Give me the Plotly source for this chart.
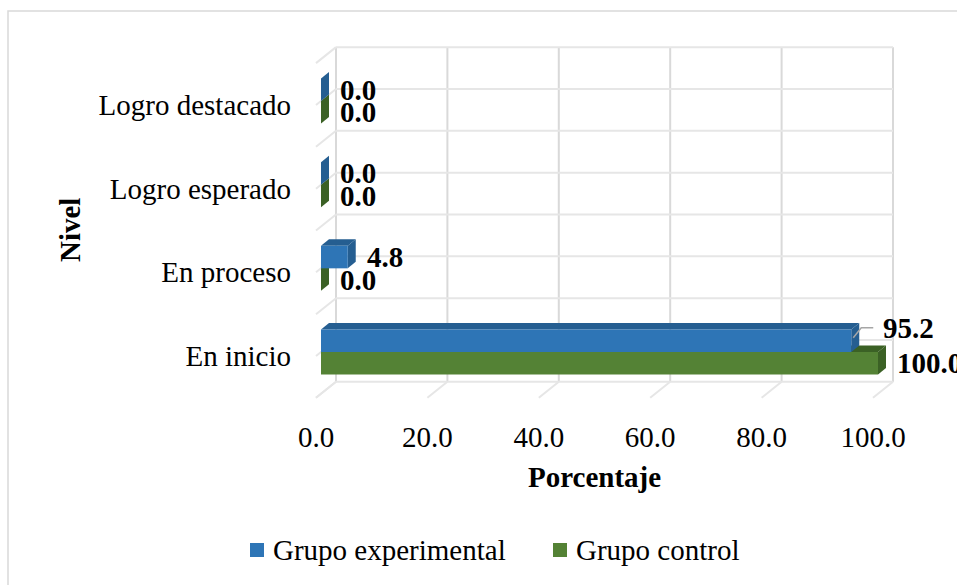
import plotly.graph_objects as go

# ---- data ----
categorias = ["En inicio", "En proceso", "Logro esperado", "Logro destacado"]
grupo_experimental = [95.2, 4.8, 0.0, 0.0]
grupo_control = [100.0, 0.0, 0.0, 0.0]
ticks_x = [0, 20, 40, 60, 80, 100]
ticks_x_texto = ["0.0", "20.0", "40.0", "60.0", "80.0", "100.0"]
nombres_series = ["Grupo experimental", "Grupo control"]

# ---- layout geometry (pixels) ----
W, H = 957, 585
ML, MR, MT, MB = 300, 12, 30, 175
PW, PH = W - ML - MR, H - MT - MB
X0_PX = 321.0      # pixel column of 0 % on the bar plane
PX = 5.57          # pixels per percent
Y0_PX = 352.0      # pixel row of the first category centre on the bar plane
PY = 83.67         # pixels per category

x_range = [-(X0_PX - ML) / PX, (W - MR - X0_PX) / PX]
y_range = [(Y0_PX - (H - MB)) / PY, (Y0_PX - MT) / PY]


def dxu(px):
    return px / PX


def dyu(px):
    return px / PY


def paper_x(px):
    return (px - ML) / PW


def paper_y(py):
    return (H - MB - py) / PH


FONT = "Liberation Serif, Times New Roman, serif"
FS = 29
BLUE, BLUE_D = "#2E75B6", "#255E91"
GREEN, GREEN_D = "#548235", "#3B6125"
GRID_V, GRID_H = "#D9D9D9", "#E6E6E6"

BAR_W = dyu(22.5)                 # bar thickness in category units
DEP_X, DEP_Y = dxu(8), dyu(6.5)   # bar depth (oblique projection)
BACK_X, BACK_Y = dxu(15), dyu(12)   # back wall relative to bar plane
FRONT_X, FRONT_Y = dxu(-5), dyu(-4)  # front edge relative to bar plane

idx = list(range(len(categorias)))

fig = go.Figure()
fig.add_trace(go.Bar(
    name=nombres_series[0], orientation="h", y=idx, x=grupo_experimental,
    width=BAR_W, offset=0, marker=dict(color=BLUE, line=dict(width=0)),
    hoverinfo="x+name",
))
fig.add_trace(go.Bar(
    name=nombres_series[1], orientation="h", y=idx, x=grupo_control,
    width=BAR_W, offset=-BAR_W, marker=dict(color=GREEN, line=dict(width=0)),
    hoverinfo="x+name",
))

shapes = []

# back wall: vertical gridlines
y_lo = -0.5 + BACK_Y
y_hi = len(categorias) - 0.5 + BACK_Y
for v in ticks_x:
    shapes.append(dict(type="line", xref="x", yref="y", layer="below",
                       x0=v + BACK_X, x1=v + BACK_X, y0=y_lo, y1=y_hi,
                       line=dict(color=GRID_V, width=2)))
# back wall: horizontal lines at category boundaries and centres
for k in range(2 * len(categorias) + 1):
    yy = -0.5 + k * 0.5 + BACK_Y
    shapes.append(dict(type="line", xref="x", yref="y", layer="below",
                       x0=ticks_x[0] + BACK_X, x1=ticks_x[-1] + BACK_X, y0=yy, y1=yy,
                       line=dict(color=GRID_H, width=2)))
    # side wall depth lines
    shapes.append(dict(type="line", xref="x", yref="y", layer="below",
                       x0=ticks_x[0] + BACK_X, x1=ticks_x[0] + FRONT_X,
                       y0=yy, y1=-0.5 + k * 0.5 + FRONT_Y,
                       line=dict(color=GRID_H, width=2)))
# floor depth lines
for v in ticks_x:
    shapes.append(dict(type="line", xref="x", yref="y", layer="below",
                       x0=v + BACK_X, x1=v + FRONT_X,
                       y0=-0.5 + BACK_Y, y1=-0.5 + FRONT_Y,
                       line=dict(color=GRID_H, width=2)))

# 3D faces of every bar
series = [(grupo_control, 0, GREEN_D), (grupo_experimental, 1, BLUE_D)]
for vals, up, dark in series:
    for i, v in enumerate(vals):
        ya = i if up else i - BAR_W
        yb = ya + BAR_W
        top = (f"M 0,{yb} L {DEP_X},{yb + DEP_Y} L {v + DEP_X},{yb + DEP_Y} "
               f"L {v},{yb} Z")
        side = (f"M {v},{ya} L {v},{yb} L {v + DEP_X},{yb + DEP_Y} "
                f"L {v + DEP_X},{ya + DEP_Y} Z")
        if v > 0:
            shapes.append(dict(type="path", xref="x", yref="y", layer="below",
                               path=top, fillcolor=dark, line=dict(width=0)))
        shapes.append(dict(type="path", xref="x", yref="y", layer="below",
                           path=side, fillcolor=dark, line=dict(width=0)))

# value labels
label_move = {(1, 0): (13, 13)}  # (series, category) -> pixel shift of label
annotations = []
for vals, up, _ in series:
    for i, v in enumerate(vals):
        yc = i + BAR_W / 2 if up else i - BAR_W / 2
        sx, sy = label_move.get((up, i), (0, 0))
        annotations.append(dict(
            x=v, y=yc, xref="x", yref="y", text=f"{v:.1f}", showarrow=False,
            xanchor="left", yanchor="middle", xshift=17 + sx, yshift=sy,
            font=dict(family=FONT, size=FS, color="#000000", weight="bold"),
        ))
        if (up, i) in label_move:
            path = (f"M {v + dxu(2)},{yc + dyu(3)} L {v + dxu(10)},{yc + dyu(sy)} "
                    f"L {v + dxu(22)},{yc + dyu(sy)}")
            shapes.append(dict(type="path", xref="x", yref="y", layer="above",
                               path=path, line=dict(color="#A6A6A6", width=1.5)))

# axis titles
annotations.append(dict(
    text="Porcentaje", x=paper_x(594), y=paper_y(477), xref="paper", yref="paper",
    showarrow=False, xanchor="center", yanchor="middle",
    font=dict(family=FONT, size=FS, color="#000000", weight="bold"),
))
annotations.append(dict(
    text="Nivel", x=paper_x(70), y=paper_y(230), xref="paper", yref="paper",
    showarrow=False, xanchor="center", yanchor="middle", textangle=-90,
    font=dict(family=FONT, size=FS, color="#000000", weight="bold"),
))

# legend: colour key squares and series names
legend_items = [(nombres_series[0], BLUE, 250), (nombres_series[1], GREEN, 553)]
for nombre, color, x_px in legend_items:
    shapes.append(dict(type="rect", xref="paper", yref="paper", layer="above",
                       x0=paper_x(x_px), x1=paper_x(x_px + 14),
                       y0=paper_y(557), y1=paper_y(543),
                       fillcolor=color, line=dict(width=0)))
    annotations.append(dict(
        text=nombre, x=paper_x(x_px + 21), y=paper_y(550), xref="paper", yref="paper",
        showarrow=False, xanchor="left", yanchor="middle",
        font=dict(family=FONT, size=FS, color="#000000"),
    ))

# outer chart border
shapes.append(dict(type="rect", xref="paper", yref="paper", layer="below",
                   x0=paper_x(8), y0=paper_y(620), x1=paper_x(990), y1=paper_y(11),
                   line=dict(color="#D9D9D9", width=1.5), fillcolor="rgba(0,0,0,0)"))

fig.update_layout(
    width=W, height=H,
    margin=dict(l=ML, r=MR, t=MT, b=MB),
    paper_bgcolor="white", plot_bgcolor="rgba(0,0,0,0)",
    barmode="overlay",
    showlegend=False,
    font=dict(family=FONT, size=FS, color="#000000"),
    xaxis=dict(range=x_range, tickvals=ticks_x, ticktext=ticks_x_texto,
               showgrid=False, zeroline=False, showline=False, ticks="",
               ticklabelshift=-5, ticklabelstandoff=7, fixedrange=True,
               tickfont=dict(family=FONT, size=FS, color="#000000")),
    yaxis=dict(range=y_range, tickvals=[i - dyu(4) for i in idx], ticktext=categorias,
               showgrid=False, zeroline=False, showline=False, ticks="",
               ticklabelstandoff=8, fixedrange=True,
               tickfont=dict(family=FONT, size=FS, color="#000000")),
    shapes=shapes,
    annotations=annotations,
)

fig.write_html("out.html")
